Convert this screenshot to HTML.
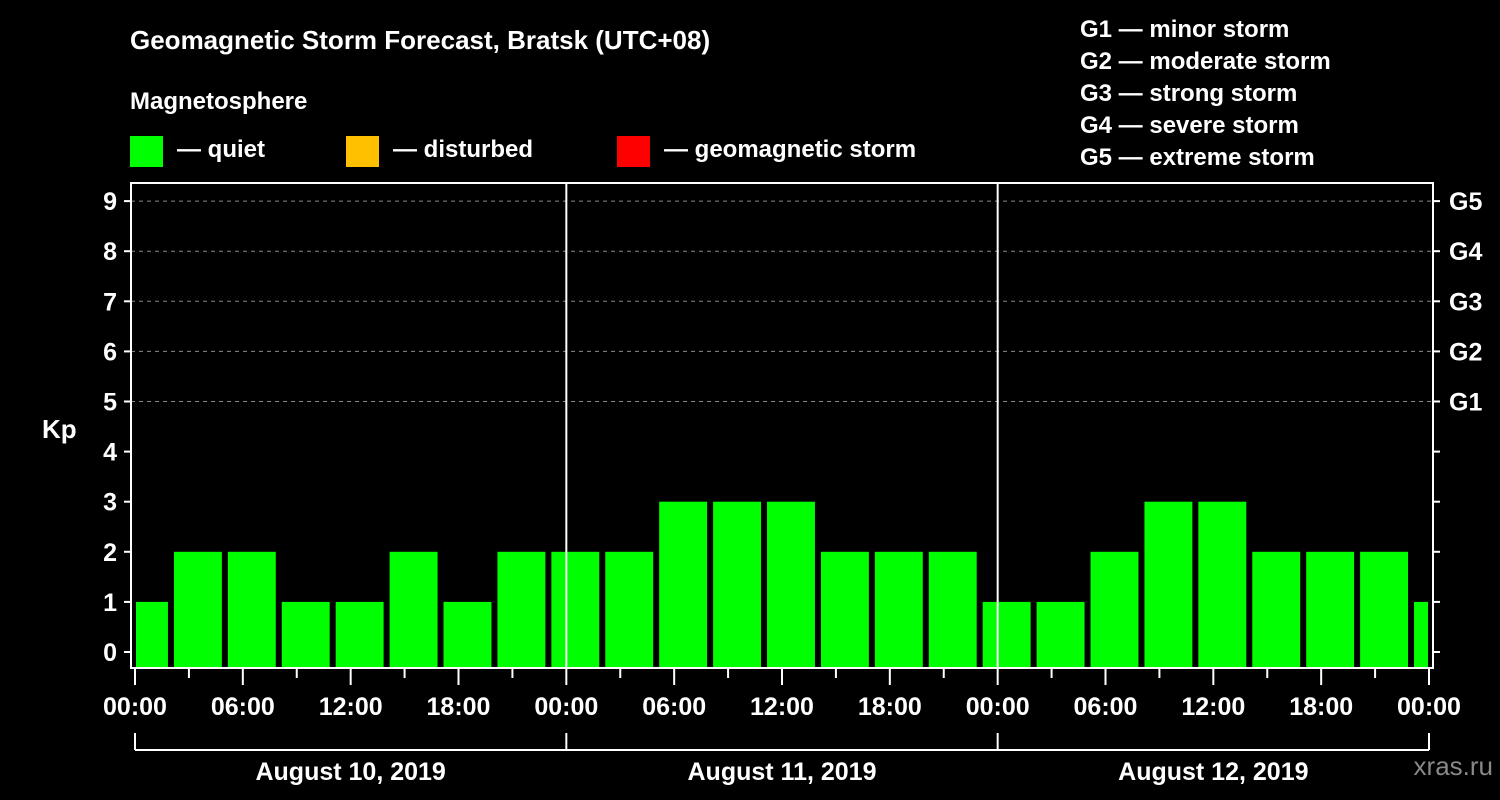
<!DOCTYPE html>
<html><head><meta charset="utf-8"><style>
html,body{margin:0;padding:0;background:#000;}
svg{display:block;font-family:"Liberation Sans",Arial,sans-serif;font-weight:bold;}
</style></head><body>
<svg id="chart" width="1500" height="800">
<text x="130" y="49" fill="#fff" font-size="26">Geomagnetic Storm Forecast, Bratsk (UTC+08)</text>
<text x="130" y="109" fill="#fff" font-size="24">Magnetosphere</text>
<g>
<rect x="130" y="136" width="33" height="31" fill="#00ff00"/>
<text x="177" y="157" fill="#fff" font-size="24">— quiet</text>
<rect x="346" y="136" width="33" height="31" fill="#ffc000"/>
<text x="393" y="157" fill="#fff" font-size="24">— disturbed</text>
<rect x="617" y="136" width="33" height="31" fill="#ff0000"/>
<text x="664" y="157" fill="#fff" font-size="24">— geomagnetic storm</text>
</g>
<g fill="#fff" font-size="24">
<text x="1080" y="37">G1 — minor storm</text>
<text x="1080" y="69">G2 — moderate storm</text>
<text x="1080" y="101">G3 — strong storm</text>
<text x="1080" y="133">G4 — severe storm</text>
<text x="1080" y="165">G5 — extreme storm</text>
</g>
<text x="42" y="438" fill="#fff" font-size="26">Kp</text>
<text x="1493" y="775" fill="#888" font-size="26" font-weight="normal" text-anchor="end">xras.ru</text>
<g id="plot"></g>
</svg>
<script>
const kpValues=[1,2,2,1,1,2,1,2,2,2,3,3,3,2,2,2,1,1,2,3,3,2,2,2,1];
const binStartHour=-1;
const yTicks=[0,1,2,3,4,5,6,7,8,9];
const gLabels=["G1","G2","G3","G4","G5"];
const xTickLabels=["00:00","06:00","12:00","18:00","00:00","06:00","12:00","18:00","00:00","06:00","12:00","18:00","00:00"];
const dayLabels=["August 10, 2019","August 11, 2019","August 12, 2019"];

const X0=135,X1=1429,HMAX=72;
const x=h=>X0+(X1-X0)*h/HMAX;
const y=v=>652-50.1*v;
const NS="http://www.w3.org/2000/svg";
const g=document.getElementById('plot');
function mk(t,a){const e=document.createElementNS(NS,t);for(const k in a)e.setAttribute(k,a[k]);g.appendChild(e);return e;}
// gridlines
yTicks.forEach(v=>{if(v>=5){const l=mk('line',{x1:131,x2:1433,y1:y(v),y2:y(v),stroke:'#888','stroke-dasharray':'4,4','stroke-width':1});

}});
// bars
kpValues.forEach((v,i)=>{let h0=binStartHour+3*i,h1=h0+3;let a=x(h0)+3,b=x(h1)-3;a=Math.max(a,x(0)+1);b=Math.min(b,x(HMAX)-1);
const c=v>=5?'#ff0000':(v>=4?'#ffc000':'#00ff00');
const r=mk('rect',{x:a,y:y(v),width:b-a,height:667-y(v),fill:c});

});
// frame
const f=mk('path',{d:'M131,183H1433V668H131Z',fill:'none',stroke:'#fff','stroke-width':2});


[24,48].forEach(h=>{const l=mk('line',{x1:x(h),x2:x(h),y1:183,y2:668,stroke:'#fff','stroke-width':2});

});
// y ticks
yTicks.forEach(v=>{mk('line',{x1:124,x2:131,y1:y(v),y2:y(v),stroke:'#fff','stroke-width':2});
mk('line',{x1:1433,x2:1440,y1:y(v),y2:y(v),stroke:'#fff','stroke-width':2});
const t=mk('text',{x:117,y:y(v)+9,fill:'#fff','font-size':25,'text-anchor':'end'});t.textContent=v;

});
gLabels.forEach((s,i)=>{const t=mk('text',{x:1449,y:y(5+i)+9,fill:'#fff','font-size':25});t.textContent=s;

});
// x ticks
for(let h=0;h<=HMAX;h+=3){const major=h%6===0;mk('line',{x1:x(h),x2:x(h),y1:668,y2:major?685:678,stroke:'#fff','stroke-width':2});}
xTickLabels.forEach((s,i)=>{const t=mk('text',{x:x(6*i),y:715,fill:'#fff','font-size':25,'text-anchor':'middle'});t.textContent=s;

});
// day bracket
mk('line',{x1:x(0),x2:x(HMAX),y1:750,y2:750,stroke:'#fff','stroke-width':2});
[0,24,48,72].forEach(h=>mk('line',{x1:x(h),x2:x(h),y1:733,y2:750,stroke:'#fff','stroke-width':2}));
dayLabels.forEach((s,i)=>{const t=mk('text',{x:x(24*i+12),y:780,fill:'#fff','font-size':25,'text-anchor':'middle'});t.textContent=s;

});
</script>
</body></html>
